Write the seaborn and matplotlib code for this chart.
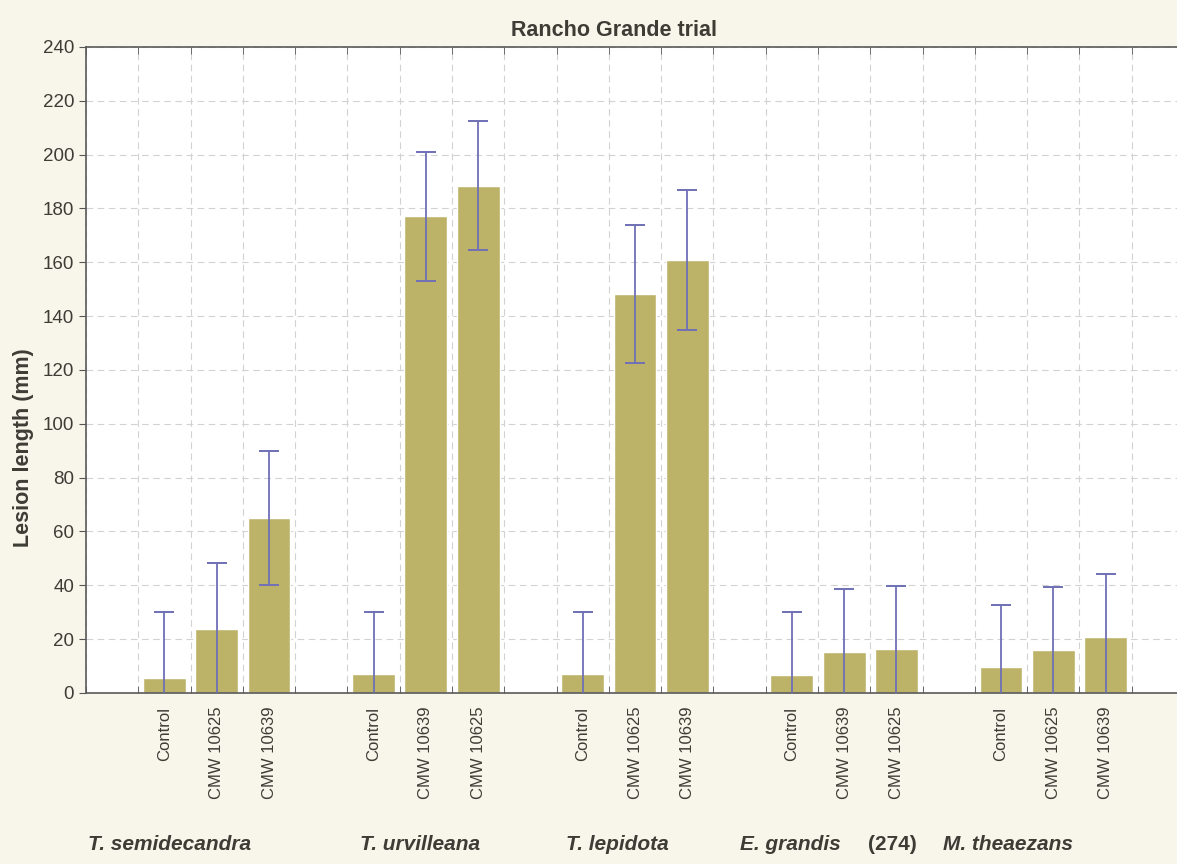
import pandas as pd
import matplotlib.pyplot as plt
import seaborn as sns
from matplotlib.ticker import MultipleLocator, FixedLocator

# Rancho Grande trial: mean lesion length per host / isolate
species = ['T. semidecandra', 'T. urvilleana', 'T. lepidota', 'E. grandis', 'M. theaezans']
isolates = [
    ['Control', 'CMW 10625', 'CMW 10639'],
    ['Control', 'CMW 10639', 'CMW 10625'],
    ['Control', 'CMW 10625', 'CMW 10639'],
    ['Control', 'CMW 10639', 'CMW 10625'],
    ['Control', 'CMW 10625', 'CMW 10639'],
]
lesion_mm = [
    [5.7, 23.8, 65.0],
    [7.0, 177.0, 188.5],
    [7.0, 148.2, 160.7],
    [6.5, 15.2, 16.5],
    [9.5, 16.0, 20.7],
]
error_mm = [
    [24.5, 24.5, 25.0],
    [23.0, 23.8, 24.0],
    [23.0, 25.8, 26.0],
    [23.5, 23.5, 23.3],
    [23.2, 23.5, 23.5],
]

rows = []
order = ['gap0']
tick_text = ['']
for i, sp in enumerate(species):
    for iso, val, err in zip(isolates[i], lesion_mm[i], error_mm[i]):
        key = f'{sp}|{iso}'
        rows.append({'slot': key, 'lesion': val, 'err': err})
        order.append(key)
        tick_text.append(iso)
    order.append(f'gap{i + 1}')
    tick_text.append('')
df = pd.DataFrame(rows)

sns.set_style('white')
plt.rcParams['font.family'] = ['Liberation Sans', 'DejaVu Sans']
text_col = '#3d3d36'
page_col = '#f8f5ea'

fig = plt.figure(figsize=(11.77, 8.64), dpi=100, facecolor=page_col)
ax = fig.add_axes([0.0731, 0.198, 0.9329, 0.7477])
ax.set_facecolor('white')

sns.barplot(data=df, x='slot', y='lesion', order=order, color='#bcb368',
            width=0.82, saturation=1, errorbar=None, ax=ax)

pos = [order.index(k) for k in df['slot']]
ax.errorbar(pos, df['lesion'], yerr=df['err'], fmt='none', ecolor='#6f70b6',
            elinewidth=1.3, capsize=7.5, capthick=1.4, zorder=3)

ax.set_xlim(-0.5, len(order) - 0.5)
ax.set_ylim(0, 240)
ax.yaxis.set_major_locator(MultipleLocator(20))
ax.set_xticks(range(len(order)))
ax.set_xticklabels(tick_text, rotation=90, fontsize=12, color=text_col)
ax.xaxis.set_minor_locator(FixedLocator([i - 0.5 for i in range(len(order) + 1)]))
ax.tick_params(axis='x', which='major', length=0, pad=10)
ax.tick_params(axis='x', which='minor', direction='in', length=5, top=True, bottom=True,
               color='#555555')
ax.tick_params(axis='y', which='major', direction='out', length=5, left=True,
               labelsize=13.5, labelcolor=text_col, color='#555555')
ax.grid(True, axis='y', which='major', linestyle=(0, (6, 4)), color='#d2d2d2', linewidth=0.8)
ax.grid(True, axis='x', which='minor', linestyle=(0, (6, 4)), color='#d2d2d2', linewidth=0.8)
ax.set_axisbelow(True)

for side in ['left', 'top', 'bottom']:
    ax.spines[side].set_color('#5a5a5a')
    ax.spines[side].set_linewidth(1.2)
ax.spines['right'].set_visible(False)

ax.set_xlabel('')
ax.set_ylabel('Lesion length (mm)', fontsize=15.5, fontweight='bold', color=text_col)
ax.yaxis.set_label_coords(-0.047, 0.38)
ax.set_title('Rancho Grande trial', fontsize=15.5, fontweight='bold', color=text_col, pad=8, x=0.481)

# host names under each group
group_x = [-0.46, 4.74, 8.68, 12.0, 15.89]
for sp, gx in zip(species, group_x):
    ax.text(gx, -0.235, sp, transform=ax.get_xaxis_transform(), fontsize=15,
            fontweight='bold', fontstyle='italic', color=text_col, va='center', ha='left')
ax.text(14.45, -0.235, '(274)', transform=ax.get_xaxis_transform(), fontsize=15,
        fontweight='bold', color=text_col, va='center', ha='left')

plt.savefig('out.png', dpi=100, facecolor=page_col)
print('Saved out.png')
